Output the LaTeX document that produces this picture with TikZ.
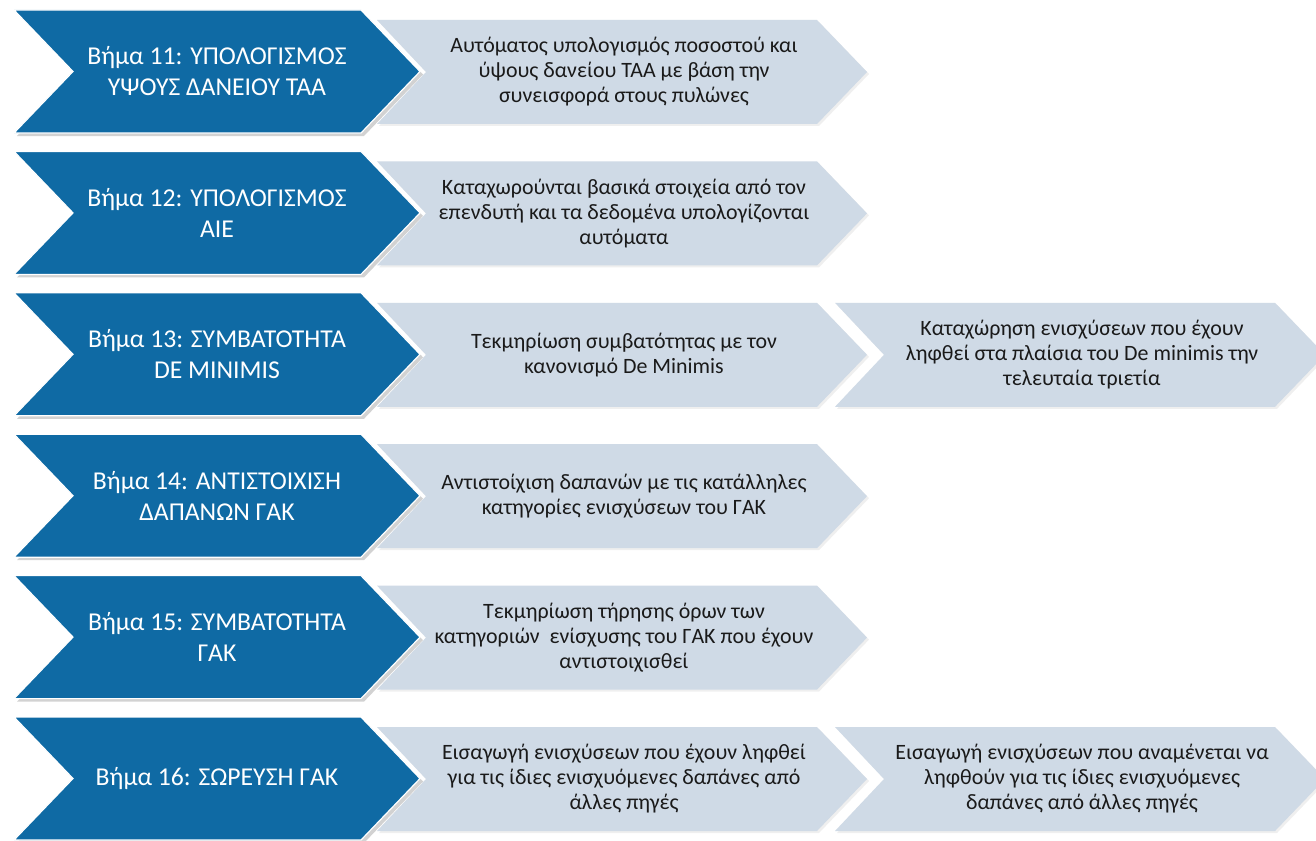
\documentclass[tikz,border=0pt]{standalone}
\usepackage{fontspec}
\setmainfont{Carlito}
\usetikzlibrary{shadows}
\definecolor{darkblue}{HTML}{0F6AA4}
\definecolor{lightblue}{HTML}{CFDAE6}
\definecolor{txt}{HTML}{1A1A1A}
\tikzset{
  darkshape/.style={fill=darkblue, draw=white, line width=1.2pt, line join=miter,
    drop shadow={shadow xshift=3pt, shadow yshift=-3pt, opacity=0.35}},
  lightshape/.style={fill=lightblue,
    drop shadow={shadow xshift=2pt, shadow yshift=-2pt, opacity=0.12}},
  darktext/.style={text=white, align=center, font=\fontsize{25.7}{31}\selectfont, inner sep=0pt},
  lighttext/.style={text=txt, align=center, font=\fontsize{21.9}{25}\selectfont, inner sep=0pt}
}
\newcommand\darkchev[3]{%
  \path[darkshape] (14,#2) -- (361,#2) -- (420,#2+61.5) -- (361,#2+123) -- (14,#2+123) -- (73,#2+61.5) -- cycle;
  \node[darktext] (#1) at (217,#2+61.5) {#3};}
\newcommand\lightchev[4]{%
  \path[lightshape] (#2,#3) -- (#2+440,#3) -- (#2+490,#3+52) -- (#2+440,#3+104) -- (#2,#3+104) -- (#2+49,#3+52) -- cycle;
  \node[lighttext] (#1) at (#2+247,#3+52) {#4};}
\begin{document}
\begin{tikzpicture}[x=1pt,y=-1pt]
\useasboundingbox (0,0) rectangle (1316,840);
\clip (0,0) rectangle (1316,840);
\fill[white] (0,0) rectangle (1316,840);
% light chevrons
\lightchev{l1}{377}{20}{Αυτόματος υπολογισμός ποσοστού και\\ύψους δανείου ΤΑΑ με βάση την\\συνεισφορά στους πυλώνες}
\lightchev{l2}{377}{161.4}{Καταχωρούνται βασικά στοιχεία από τον\\επενδυτή και τα δεδομένα υπολογίζονται\\αυτόματα}
\lightchev{l3}{377}{302.8}{Τεκμηρίωση συμβατότητας με τον\\κανονισμό De Minimis}
\lightchev{l3b}{835}{302.8}{Καταχώρηση ενισχύσεων που έχουν\\ληφθεί στα πλαίσια του De minimis την\\τελευταία τριετία}
\lightchev{l4}{377}{444.2}{Αντιστοίχιση δαπανών με τις κατάλληλες\\κατηγορίες ενισχύσεων του ΓΑΚ}
\lightchev{l5}{377}{585.6}{Τεκμηρίωση τήρησης όρων των\\κατηγοριών\ \ ενίσχυσης του ΓΑΚ που έχουν\\αντιστοιχισθεί}
\lightchev{l6}{377}{727}{Εισαγωγή ενισχύσεων που έχουν ληφθεί\\για τις ίδιες ενισχυόμενες δαπάνες από\\άλλες πηγές}
\lightchev{l6b}{835}{727}{Εισαγωγή ενισχύσεων που αναμένεται να\\ληφθούν για τις ίδιες ενισχυόμενες\\δαπάνες από άλλες πηγές}
% dark chevrons
\darkchev{d1}{10}{Βήμα 11: ΥΠΟΛΟΓΙΣΜΟΣ\\ΥΨΟΥΣ ΔΑΝΕΙΟΥ ΤΑΑ}
\darkchev{d2}{151.4}{Βήμα 12: ΥΠΟΛΟΓΙΣΜΟΣ\\ΑΙΕ}
\darkchev{d3}{292.8}{Βήμα 13: ΣΥΜΒΑΤΟΤΗΤΑ\\DE MINIMIS}
\darkchev{d4}{434.2}{Βήμα 14: ΑΝΤΙΣΤΟΙΧΙΣΗ\\ΔΑΠΑΝΩΝ ΓΑΚ}
\darkchev{d5}{575.6}{Βήμα 15: ΣΥΜΒΑΤΟΤΗΤΑ\\ΓΑΚ}
\darkchev{d6}{717}{Βήμα 16: ΣΩΡΕΥΣΗ ΓΑΚ}
\end{tikzpicture}
\end{document}
